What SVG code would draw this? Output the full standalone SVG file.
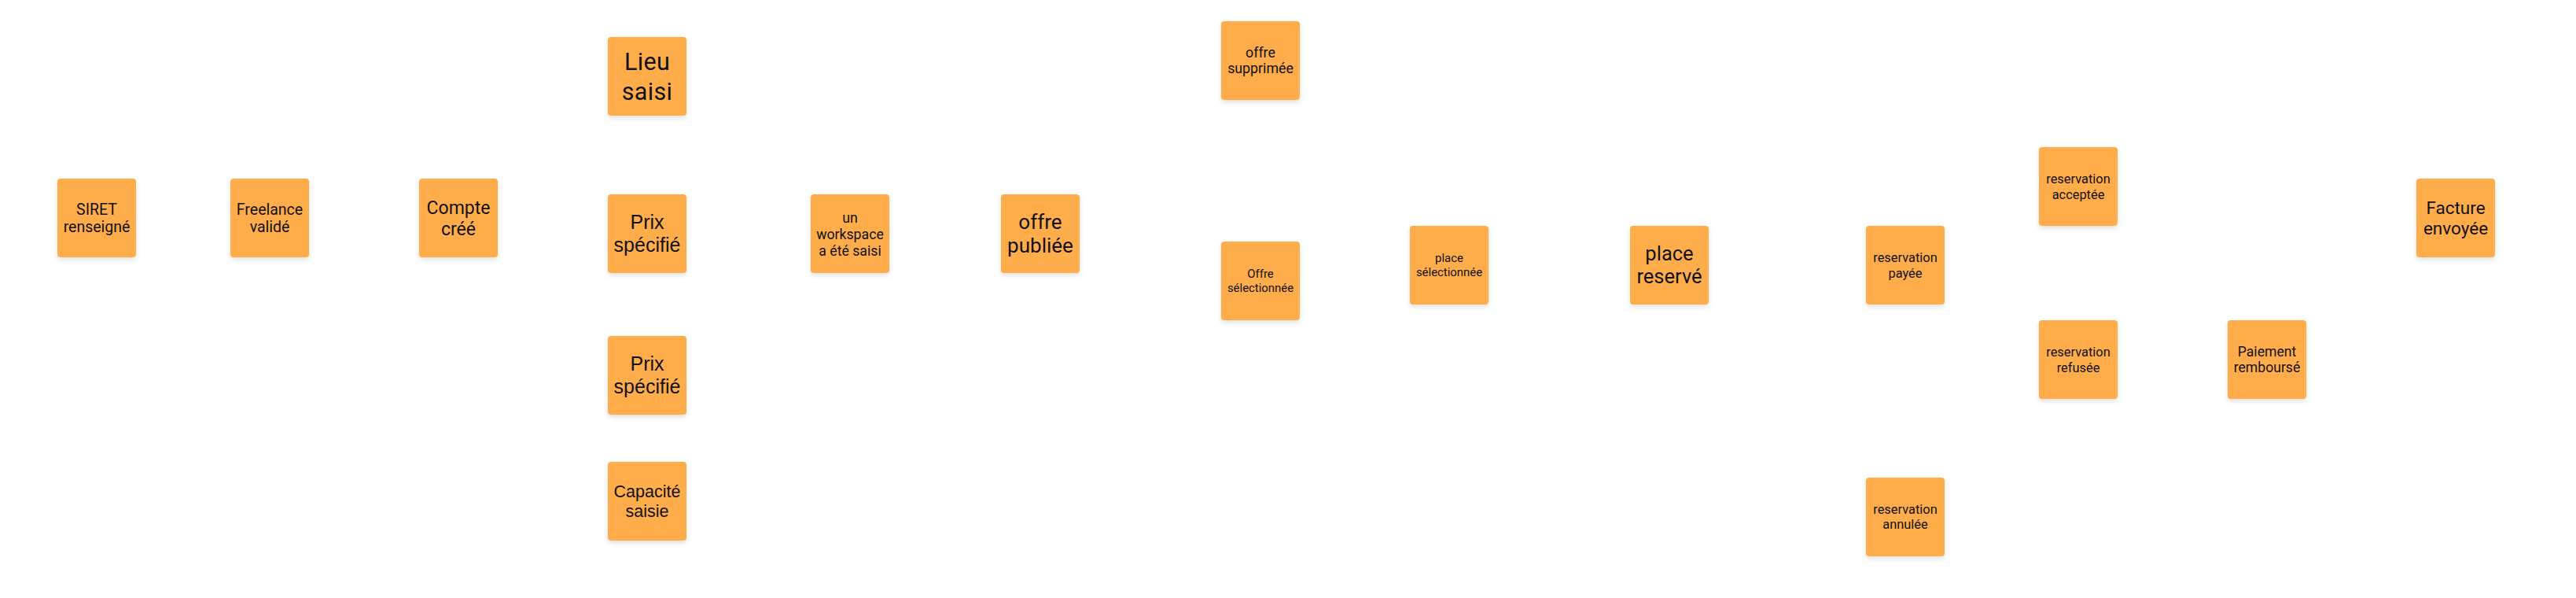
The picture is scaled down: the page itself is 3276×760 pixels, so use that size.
<svg xmlns="http://www.w3.org/2000/svg" width="3276" height="760" viewBox="0 0 3276 760">
<defs>
<filter id="sh" x="-20%" y="-20%" width="140%" height="150%">
<feDropShadow dx="0" dy="3" stdDeviation="3" flood-color="#000" flood-opacity="0.12"/>
</filter>
</defs>
<style>
.n rect{fill:#ffad4c;filter:url(#sh)}
.n text{font-family:Roboto,"Liberation Sans",sans-serif;fill:#111;text-anchor:middle}
.n text.a{font-family:"Liberation Sans",Arial,sans-serif}
</style>
<rect width="3276" height="760" fill="#fff"/>
<g id="connectors"/>
<g id="n1" class="n"><rect x="73" y="227" width="100" height="100" rx="4"/><text font-size="19.5"><tspan x="123" y="272.5">SIRET</tspan><tspan x="123" y="295.2">renseigné</tspan></text></g>
<g id="n2" class="n"><rect x="293" y="227" width="100" height="100" rx="4"/><text font-size="19.5"><tspan x="343" y="272.5">Freelance</tspan><tspan x="343" y="295.2">validé</tspan></text></g>
<g id="n3" class="n"><rect x="533" y="227" width="100" height="100" rx="4"/><text font-size="23"><tspan x="583" y="271.5">Compte</tspan><tspan x="583" y="298.5">créé</tspan></text></g>
<g id="n4" class="n"><rect x="773" y="47" width="100" height="100" rx="4"/><text font-size="30.5" letter-spacing="0.3"><tspan x="823" y="89.3">Lieu</tspan><tspan x="823" y="126.5">saisi</tspan></text></g>
<g id="n5" class="n"><rect x="773" y="247" width="100" height="100" rx="4"/><text class="a" font-size="25"><tspan x="823" y="291.3">Prix</tspan><tspan x="823" y="320.3">spécifié</tspan></text></g>
<g id="n6" class="n"><rect x="773" y="427" width="100" height="100" rx="4"/><text class="a" font-size="25"><tspan x="823" y="471.3">Prix</tspan><tspan x="823" y="500.3">spécifié</tspan></text></g>
<g id="n7" class="n"><rect x="773" y="587" width="100" height="100" rx="4"/><text class="a" font-size="21.5"><tspan x="823" y="632">Capacité</tspan><tspan x="823" y="656.5">saisie</tspan></text></g>
<g id="n8" class="n"><rect x="1031" y="247" width="100" height="100" rx="4"/><text font-size="17.7"><tspan x="1081" y="283.3">un</tspan><tspan x="1081" y="304.3">workspace</tspan><tspan x="1081" y="325.3">a été saisi</tspan></text></g>
<g id="n9" class="n"><rect x="1273" y="247" width="100" height="100" rx="4"/><text font-size="26"><tspan x="1323" y="291">offre</tspan><tspan x="1323" y="321">publiée</tspan></text></g>
<g id="n10" class="n"><rect x="1553" y="27" width="100" height="100" rx="4"/><text font-size="17.8"><tspan x="1603" y="73.3">offre</tspan><tspan x="1603" y="93.3">supprimée</tspan></text></g>
<g id="n11" class="n"><rect x="1553" y="307" width="100" height="100" rx="4"/><text font-size="14.9"><tspan x="1603" y="353">Offre</tspan><tspan x="1603" y="371.4">sélectionnée</tspan></text></g>
<g id="n12" class="n"><rect x="1793" y="287" width="100" height="100" rx="4"/><text font-size="14.9"><tspan x="1843" y="333">place</tspan><tspan x="1843" y="351.4">sélectionnée</tspan></text></g>
<g id="n13" class="n"><rect x="2073" y="287" width="100" height="100" rx="4"/><text font-size="25.5"><tspan x="2123" y="331.4">place</tspan><tspan x="2123" y="360.4">reservé</tspan></text></g>
<g id="n14" class="n"><rect x="2373" y="287" width="100" height="100" rx="4"/><text font-size="16.4"><tspan x="2423" y="332.8">reservation</tspan><tspan x="2423" y="352.8">payée</tspan></text></g>
<g id="n15" class="n"><rect x="2593" y="187" width="100" height="100" rx="4"/><text font-size="16.4"><tspan x="2643" y="232.8">reservation</tspan><tspan x="2643" y="252.8">acceptée</tspan></text></g>
<g id="n16" class="n"><rect x="2593" y="407" width="100" height="100" rx="4"/><text font-size="16.4"><tspan x="2643" y="452.8">reservation</tspan><tspan x="2643" y="472.8">refusée</tspan></text></g>
<g id="n17" class="n"><rect x="2833" y="407" width="100" height="100" rx="4"/><text font-size="17.6"><tspan x="2883" y="452.8">Paiement</tspan><tspan x="2883" y="473.4">remboursé</tspan></text></g>
<g id="n18" class="n"><rect x="2373" y="607" width="100" height="100" rx="4"/><text font-size="16.4"><tspan x="2423" y="653.3">reservation</tspan><tspan x="2423" y="672.3">annulée</tspan></text></g>
<g id="n19" class="n"><rect x="3073" y="227" width="100" height="100" rx="4"/><text font-size="22.5"><tspan x="3123" y="271.6">Facture</tspan><tspan x="3123" y="298.1">envoyée</tspan></text></g>
</svg>
